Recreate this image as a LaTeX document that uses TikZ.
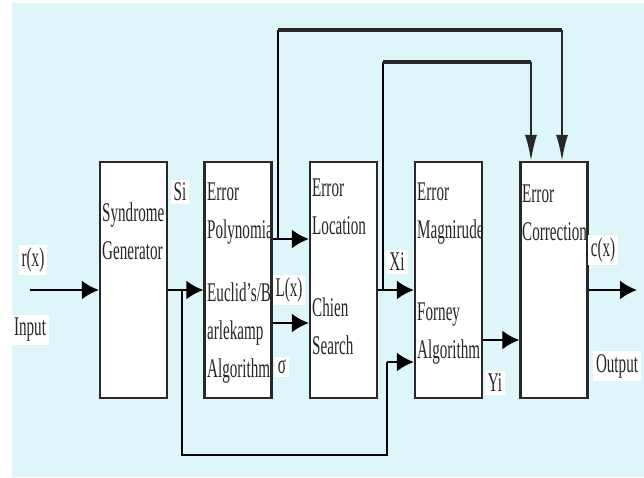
\documentclass[tikz,border=0pt]{standalone}
\usepackage{fontspec}
\setmainfont{Liberation Serif}
\usepackage{xcolor}
\usetikzlibrary{arrows.meta}

\definecolor{bgcyan}{RGB}{222,246,249}
\definecolor{boxline}{RGB}{40,40,40}
\newcommand{\boxfont}{\fontsize{27}{38}\selectfont}
\newcommand{\narrow}[1]{\scalebox{0.56}[1]{#1}}
\newcommand{\lines}[1]{\narrow{\begin{tabular}[t]{@{}l@{}}#1\end{tabular}}}

\begin{document}
\begin{tikzpicture}[x=1pt,y=-1pt,
		block/.style={draw=boxline, line width=2.2pt, fill=white, minimum width=67pt, minimum height=236pt, inner sep=0pt},
		boxtext/.style={anchor=base west, inner sep=0pt, font=\boxfont, text=black!85},
		lbl/.style={fill=white, inner sep=3pt, font=\boxfont, text=black!85},
		arr/.style={line width=2.6pt, -{Latex[length=17pt,width=19pt]}},
		wire/.style={line width=1.8pt},
		topwire/.style={line width=3.2pt, draw=boxline},
		downarr/.style={line width=2pt, draw=boxline, -{Latex[length=26pt,width=12pt]}}]
		% Background
		\fill[white] (0,0) rectangle (644,477);
		\fill[bgcyan] (12,3) rectangle (644,477);
		\useasboundingbox (0,0) rectangle (644,477);

		% Blocks
		\node[block] (synd) at (133.5,280) {};
		\node[block] (poly) at (238,280) {};
		\node[block] (loc) at (343.5,280) {};
		\node[block] (mag) at (448.5,280) {};
		\node[block] (corr) at (554,280) {};

		% Block texts
		\node[boxtext] (syndtxt) at (102,221) {\lines{Syndrome\\Generator}};
		\node[boxtext] (polytxt) at (207,200) {\lines{Error\\Polynomia}};
		\node[boxtext] (polyalg) at (207,301) {\lines{Euclid's/B\\arlekamp\\Algorithm}};
		\node[boxtext] (loctxt) at (312,196) {\lines{Error\\Location}};
		\node[boxtext] (localg) at (312,316) {\lines{Chien\\Search}};
		\node[boxtext] (magtxt) at (417,200) {\lines{Error\\Magnirude}};
		\node[boxtext] (magalg) at (417,320) {\lines{Forney\\Algorithm}};
		\node[boxtext] (corrtxt) at (522,202) {\lines{Error\\Correction}};

		% Signal labels
		\node[lbl] (rx) at (33,260) {\narrow{r(x)}};
		\node[lbl] (input) at (30,330) {\narrow{Input}};
		\node[lbl] (si) at (180,192) {\narrow{Si}};
		\node[lbl] (lx) at (289,290) {\narrow{L(x)}};
		\node[lbl] (sigma) at (282,367) {\narrow{σ}};
		\node[lbl] (xi) at (397,262) {\narrow{Xi}};
		\node[lbl] (yi) at (495,383) {\narrow{Yi}};
		\node[lbl] (cx) at (603,250) {\narrow{c(x)}};
		\node[lbl] (output) at (617,366) {\narrow{Output}};

		% Rows and corners
		\coordinate (in) at (30,290);
		\coordinate (out) at (637,290);
		\coordinate (lrow) at (0,239);
		\coordinate (srow) at (0,323);
		\coordinate (yrow) at (0,340);
		\coordinate (br) at (182,290);
		\coordinate (low) at (387,455);
		\coordinate (fb) at (387,362);
		\coordinate (t1) at (278,30);
		\coordinate (t2) at (383,62);
		\path ([xshift=8pt]corr.north) coordinate (a1)
			([xshift=-23pt]corr.north) coordinate (a2);

		% Forward path
		\draw[arr] (in) -- (in -| synd.west);
		\draw[arr] (synd.east |- in) -- (poly.west |- in);
		\draw[arr] (poly.east |- lrow) -- (loc.west |- lrow);
		\draw[arr] (poly.east |- srow) -- (loc.west |- srow);
		\draw[arr] (loc.east |- in) -- (mag.west |- in);
		\draw[arr] (mag.east |- yrow) -- (corr.west |- yrow);
		\draw[arr] (corr.east |- in) -- (out);

		% Si to Forney
		\draw[wire] (br) -- (br |- low) -- (low) -- (fb);
		\draw[arr] (fb) -- (fb -| mag.west);

		% Feedback to correction
		\draw[wire] (t1 |- lrow) -- (t1);
		\draw[topwire] (t1) -- (t1 -| a1);
		\draw[downarr] (t1 -| a1) -- (a1);
		\draw[wire] (t2 |- in) -- (t2);
		\draw[topwire] (t2) -- (t2 -| a2);
		\draw[downarr] (t2 -| a2) -- (a2);
	\end{tikzpicture}
\end{document}
